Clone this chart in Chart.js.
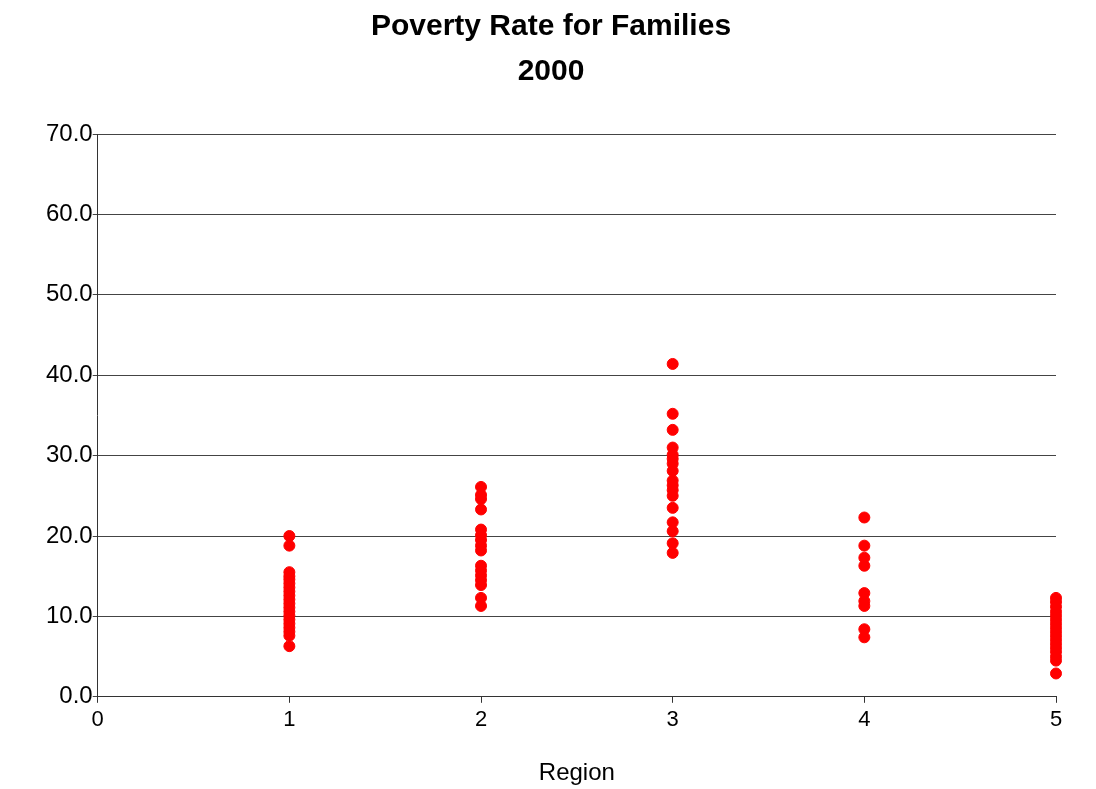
<!DOCTYPE html>
<html>
<head>
<meta charset="utf-8">
<script src="https://cdn.jsdelivr.net/npm/chart.js@4/dist/chart.umd.min.js"></script>
<style>
    html, body { margin: 0; padding: 0; background: #ffffff; }
    #wrap { width: 1096px; height: 789px; }
</style>
</head>
<body>
<div id="wrap"><canvas id="chart" width="1096" height="789"></canvas></div>
<script>
// poverty rate (%) per family, grouped by region
const region1 = [20.0, 18.8, 15.5, 15.0, 14.6, 14.1, 13.6, 13.1, 12.6, 12.1, 11.6, 11.1, 10.6, 10.1, 9.6, 9.1, 8.6, 8.1, 7.6, 6.3];
const region2 = [26.1, 25.1, 24.6, 23.3, 20.8, 20.1, 19.5, 18.8, 18.2, 16.3, 15.7, 15.1, 14.5, 13.9, 12.3, 11.3];
const region3 = [41.4, 35.2, 33.2, 31.0, 30.1, 29.6, 29.0, 28.1, 26.9, 26.3, 25.7, 25.0, 23.5, 21.7, 20.6, 19.1, 17.9];
const region4 = [22.3, 18.8, 17.3, 16.3, 12.9, 11.9, 11.3, 8.4, 7.4];
const region5 = [12.3, 11.8, 11.2, 10.6, 10.1, 9.6, 9.1, 8.6, 8.1, 7.6, 7.1, 6.6, 6.1, 5.6, 5.0, 4.5, 2.9];

const regions = [1, 2, 3, 4, 5];
const groups = [region1, region2, region3, region4, region5];

const points = [];
groups.forEach(function (vals, i) {
    vals.forEach(function (v) {
        points.push({ x: regions[i], y: v });
    });
});

const font = "'Liberation Sans', Arial, sans-serif";

new Chart(document.getElementById("chart"), {
    type: "scatter",
    data: {
        datasets: [{
            data: points,
            backgroundColor: "#ff0000",
            borderColor: "#ff0000",
            pointRadius: 5.5,
            pointHoverRadius: 5.5,
            clip: false
        }]
    },
    options: {
        responsive: false,
        animation: false,
        layout: { padding: { left: 46, right: 40, top: 4, bottom: 1 } },
        plugins: {
            legend: { display: false },
            tooltip: { enabled: false },
            title: {
                display: true,
                text: ["Poverty Rate for Families", "2000"],
                color: "#000000",
                font: { family: font, size: 30, weight: "bold", lineHeight: 1.5 },
                padding: { top: 0, bottom: 40 }
            }
        },
        scales: {
            x: {
                type: "linear",
                min: 0,
                max: 5,
                ticks: {
                    stepSize: 1,
                    color: "#000000",
                    font: { family: font, size: 22 },
                    padding: 4
                },
                grid: {
                    drawOnChartArea: false,
                    color: "#333333",
                    tickLength: 6
                },
                border: { color: "#333333" },
                title: {
                    display: true,
                    text: "Region",
                    color: "#000000",
                    font: { family: font, size: 24 },
                    padding: { top: 22, bottom: 0 }
                }
            },
            y: {
                min: 0,
                max: 70,
                ticks: {
                    stepSize: 10,
                    color: "#000000",
                    font: { family: font, size: 24 },
                    padding: 0,
                    callback: function (v) { return v.toFixed(1); }
                },
                grid: {
                    color: "#444444",
                    tickLength: 5
                },
                border: { color: "#333333" }
            }
        }
    }
});
</script>
</body>
</html>
